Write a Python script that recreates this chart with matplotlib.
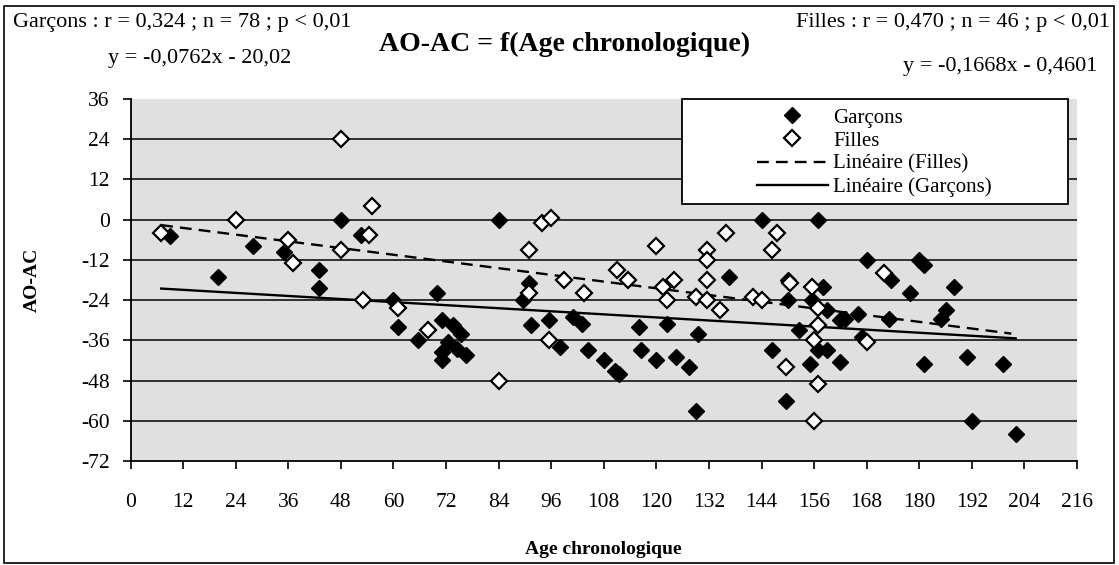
import numpy as np
import matplotlib
matplotlib.use('Agg')
import matplotlib.pyplot as plt
from matplotlib.patches import Rectangle
from matplotlib.lines import Line2D

plt.rcParams['font.family'] = ['Liberation Serif', 'DejaVu Serif']
plt.rcParams['axes.unicode_minus'] = False

# Garçons (filled diamonds): age chronologique, AO-AC
garcons_x = [9, 20, 28, 35, 43, 43, 48, 52.5, 60, 61, 65.5, 70, 71, 73.5, 75.5, 72.5,
             74.5, 76.5, 71, 71, 84, 91, 89.5, 91.5, 95.5, 98, 101, 103, 104.5, 108,
             110.5, 111.5, 116, 116.5, 120, 122.5, 124.5, 127.5, 129, 129.5, 136.5, 144,
             146.5, 149.5, 150, 150, 152.5, 155, 155.5, 157, 157, 158, 159, 159, 162,
             162, 163, 166, 167, 168, 173.5, 173, 178, 180, 181, 181, 185, 186, 188,
             191, 192, 199, 202]
garcons_y = [-5, -17, -8, -9.5, -15, -20.5, 0, -4.5, -24, -32, -36, -22, -30, -31.5, -34, -36.5,
             -38.5, -40.5, -39.5, -42, 0, -19, -24, -31.5, -30, -38, -29, -31, -39, -42,
             -45, -46, -32, -39, -42, -31, -41, -44, -57, -34, -17, 0,
             -39, -54, -18, -24, -33, -43, -24, 0, -39, -20, -27, -39, -30,
             -42.5, -29.5, -28, -35, -12, -18, -29.5, -22, -12, -13.5, -43, -29.5, -27, -20,
             -41, -60, -43, -64]

# Filles (open diamonds)
filles_x = [7, 24, 36, 37, 48, 48, 53, 54.5, 55, 61, 68, 84, 91, 91, 94, 96, 95.5, 99,
            103.5, 111, 113.5, 120, 121.5, 122.5, 124, 129, 131.5, 131.5, 131.5, 131.5,
            134.5, 136, 142, 144, 146.5, 147.5, 149.5, 150.5, 155.5, 156, 156, 157, 157,
            157, 168, 172]
filles_y = [-4, 0, -6, -13, 24, -9, -24, -4.7, 4, -26.5, -33, -48, -9, -22, -1, 0.5, -36, -18,
            -22, -15, -18, -8, -20, -24, -18, -23, -9, -12, -18, -24,
            -27, -4, -23, -24, -9, -4, -44, -19, -20, -36, -60, -26.5, -31.5,
            -49, -36.5, -16]

# trend lines (Excel): slope, intercept, x range
lin_garcons = (-0.0762, -20.02)
lin_filles = (-0.1668, -0.4601)
range_garcons = [7, 202]
range_filles = [7, 201]

xticks = np.arange(0, 217, 12)
yticks = np.arange(-72, 37, 12)

fig = plt.figure(figsize=(11.19, 5.65), dpi=100)
ax = fig.add_axes([130.5 / 1119, 1 - 461 / 565, (1077 - 130.5) / 1119, 362 / 565])
ax.set_facecolor('#e0e0e0')

for v in yticks[1:-1]:
    ax.axhline(v, color='#222222', lw=1.3, zorder=1)

ax.plot(garcons_x, garcons_y, 'D', ms=8.5, mfc='black', mec='black', zorder=3)
ax.plot(filles_x, filles_y, 'D', ms=8.5, mfc='white', mec='black', mew=1.6, zorder=3)

xg = np.array(range_garcons, dtype=float)
xf = np.array(range_filles, dtype=float)
ax.plot(xf, lin_filles[0] * xf + lin_filles[1], color='black', lw=1.7, ls=(0, (5, 3)), zorder=2)
ax.plot(xg, lin_garcons[0] * xg + lin_garcons[1], color='black', lw=1.7, zorder=2)

ax.set_xlim(0, 216)
ax.set_ylim(-72, 36)
ax.set_xticks(xticks)
ax.set_yticks(yticks)
ax.tick_params(axis='x', direction='out', length=6, width=1.2, pad=17, labelsize=15.5)
ax.tick_params(axis='y', direction='out', length=6, width=1.2, pad=9, labelsize=15.5)
for s in ('top', 'right'):
    ax.spines[s].set_visible(False)
for s in ('left', 'bottom'):
    ax.spines[s].set_linewidth(1.3)

ax.set_xlabel('Age chronologique', fontsize=14, fontweight='bold', labelpad=21)
ax.set_ylabel('AO-AC', fontsize=14, fontweight='bold', labelpad=29)

# legend box
fig.patches.append(Rectangle((682 / 1119, 1 - 204 / 565), 386 / 1119, 105 / 565,
                             transform=fig.transFigure, facecolor='white',
                             edgecolor='black', lw=1.3, zorder=4))
handles = [Line2D([], [], ls='none', marker='D', ms=8.5, mfc='black', mec='black'),
           Line2D([], [], ls='none', marker='D', ms=8.5, mfc='white', mec='black', mew=1.6),
           Line2D([], [], color='black', lw=1.7, ls=(0, (5, 3))),
           Line2D([], [], color='black', lw=1.7)]
labels = ['Garçons', 'Filles', 'Linéaire (Filles)', 'Linéaire (Garçons)']
leg = fig.legend(handles, labels, loc='upper left', bbox_to_anchor=(757 / 1119, 1 - 108 / 565),
                 frameon=False, fontsize=15, handlelength=3.4, handletextpad=0.25,
                 labelspacing=0.17, borderpad=0, borderaxespad=0)
leg.set_zorder(5)

# annotations
fig.text(13 / 1119, 1 - 22 / 565, 'Garçons : r = 0,324 ; n = 78 ; p < 0,01',
         fontsize=16, ha='left', va='center')
fig.text(108 / 1119, 1 - 58 / 565, 'y = -0,0762x - 20,02',
         fontsize=16, ha='left', va='center')
fig.text(565 / 1119, 1 - 44 / 565, 'AO-AC = f(Age chronologique)',
         fontsize=20, fontweight='bold', ha='center', va='center')
fig.text(1110 / 1119, 1 - 22 / 565, 'Filles : r = 0,470 ; n = 46 ; p < 0,01',
         fontsize=16, ha='right', va='center')
fig.text(1097 / 1119, 1 - 66 / 565, 'y = -0,1668x - 0,4601',
         fontsize=16, ha='right', va='center')

# outer frame
fig.patches.append(Rectangle((4 / 1119, 2 / 565), 1110 / 1119, 557 / 565,
                             transform=fig.transFigure, fill=False,
                             edgecolor='black', lw=1.2))

fig.savefig('out.png', dpi=100)
